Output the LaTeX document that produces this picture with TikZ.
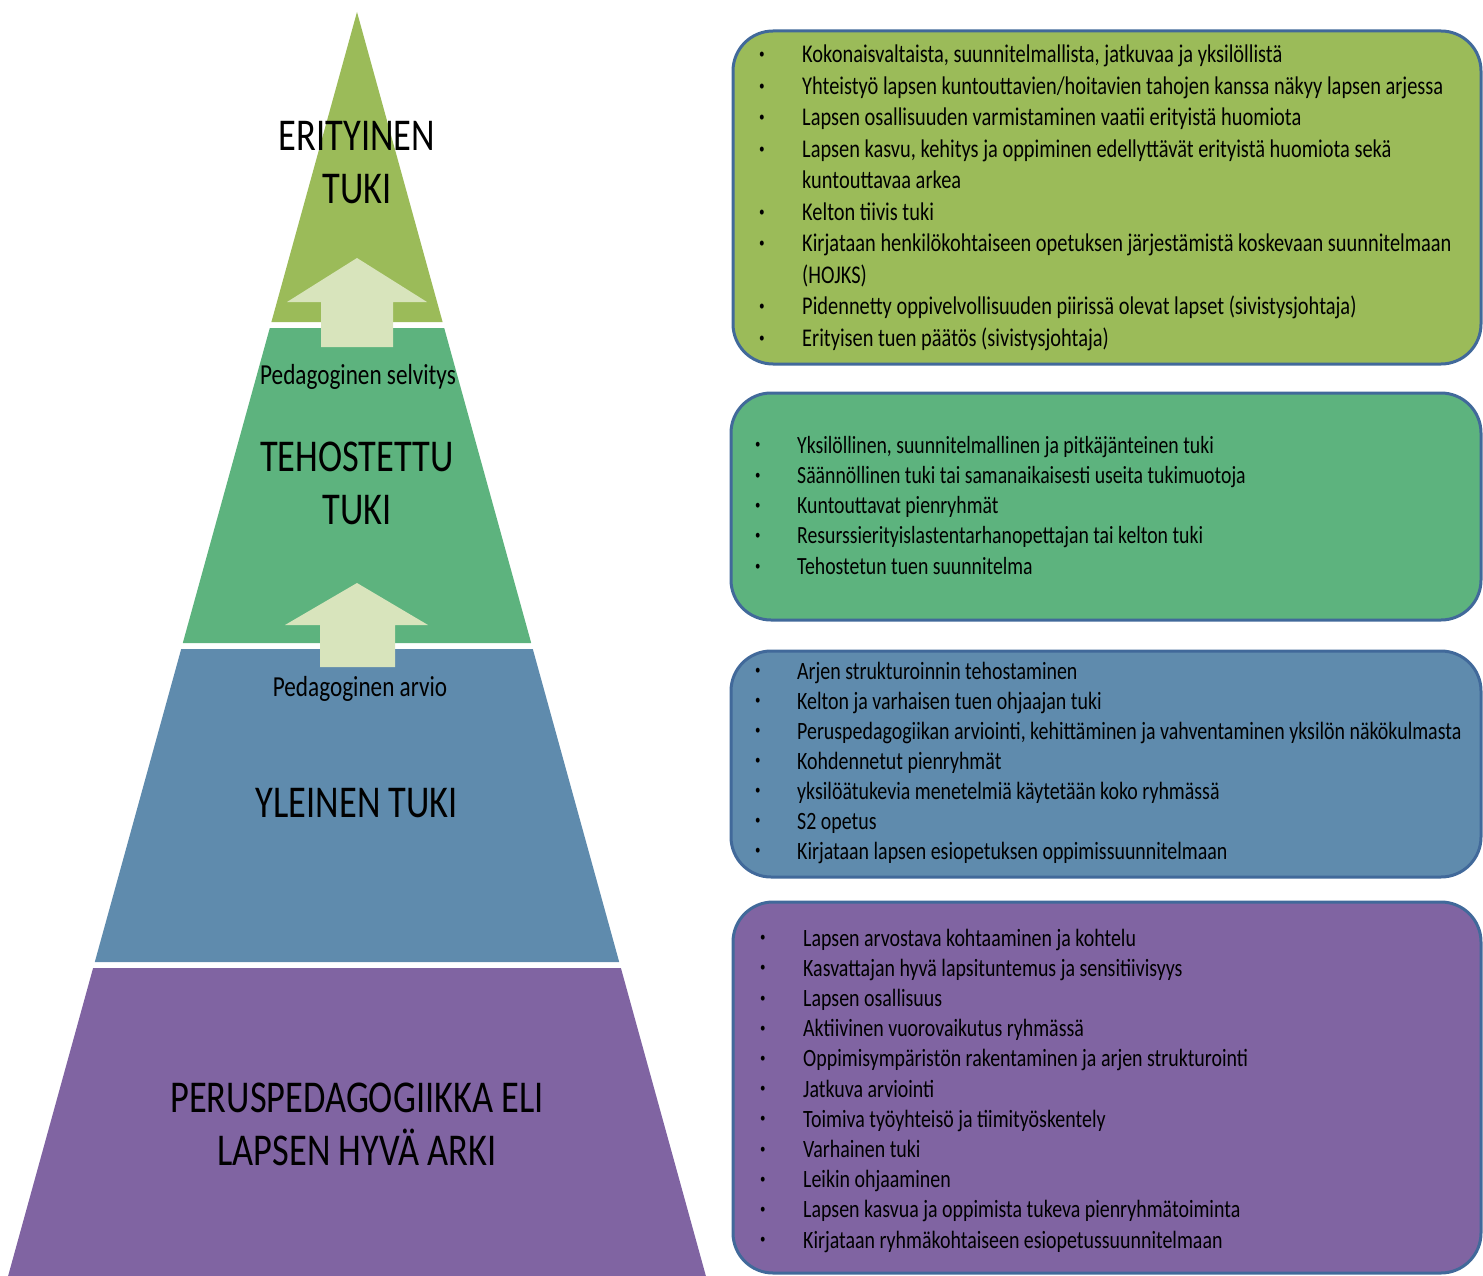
\documentclass[tikz,border=0pt]{standalone}
\usepackage{graphicx}
\usepackage{fontspec}
\setmainfont{Carlito}[FakeStretch=0.8]

\definecolor{erit}{HTML}{9BBB59}
\definecolor{tehost}{HTML}{5DB37E}
\definecolor{yleis}{HTML}{5F8BAD}
\definecolor{perusv}{HTML}{8064A2}
\definecolor{nuolivari}{HTML}{D8E4BC}
\definecolor{reuna}{HTML}{41699A}

\newcommand{\pallo}{\raisebox{0.17em}{\scalebox{0.55}{\textbullet}}}

\tikzset{
  taso/.style={font=\fontsize{45.5}{53}\selectfont, align=center},
  vaihe/.style={font=\fontsize{29}{34}\selectfont},
  tukibox/.style={draw=reuna, line width=3pt, rounded corners=40pt},
  lista/.style={anchor=base west, inner sep=0pt},
}

\begin{document}
\begin{tikzpicture}[x=1pt,y=-1pt]
    \useasboundingbox (0,0) rectangle (1483,1276);
    % pyramidin tasot
    \fill[erit] (357,12) -- (442.6,322) -- (271.4,322) -- cycle;
    \fill[tehost] (269.8,328) -- (444.2,328) -- (531.2,643) -- (182.8,643) -- cycle;
    \fill[yleis] (181.2,649) -- (532.8,649) -- (619.2,962) -- (94.8,962) -- cycle;
    \fill[perusv] (93.1,968) -- (620.9,968) -- (705.9,1276) -- (8.1,1276) -- cycle;
    % nuolet
    \fill[nuolivari] (357,258) -- (427,302) -- (393,302) -- (393,347) -- (321,347) -- (321,302) -- (287,302) -- cycle;
    \fill[nuolivari] (357,583) -- (428,625) -- (395,625) -- (395,667) -- (320,667) -- (320,625) -- (285,625) -- cycle;
    \node[taso] (erityinen) at (357,163) {ERITYINEN\\TUKI};
    \node[taso] (tehostettu) at (357,483) {TEHOSTETTU\\TUKI};
    \node[taso] (yleinen) at (357,803) {YLEINEN TUKI};
    \node[taso] (perus) at (357,1124) {PERUSPEDAGOGIIKKA ELI\\LAPSEN HYVÄ ARKI};
    \node[vaihe] (selvitys) at (358,377) {Pedagoginen selvitys};
    \node[vaihe] (arvio) at (360,689) {Pedagoginen arvio};
    % laatikot
    \draw[tukibox, fill=erit] (733,31) rectangle (1481,364);
    \draw[tukibox, fill=tehost] (731,393) rectangle (1481,620);
    \draw[tukibox, fill=yleis] (731,651) rectangle (1481,877);
    \draw[tukibox, fill=perusv] (733,902) rectangle (1481,1273);
    \node[lista, font=\fontsize{25.5}{31.5}\selectfont] (erityinenlista) at (759,63) {%
      \begin{tabular}[t]{@{}p{43pt}@{}l@{}}
        \pallo & Kokonaisvaltaista, suunnitelmallista, jatkuvaa ja yksilöllistä\\
        \pallo & Yhteistyö lapsen kuntouttavien/hoitavien tahojen kanssa näkyy lapsen arjessa\\
        \pallo & Lapsen osallisuuden varmistaminen vaatii erityistä huomiota\\
        \pallo & Lapsen kasvu, kehitys ja oppiminen edellyttävät erityistä huomiota sekä\\
               & kuntouttavaa arkea\\
        \pallo & Kelton tiivis tuki\\
        \pallo & Kirjataan henkilökohtaiseen opetuksen järjestämistä koskevaan suunnitelmaan\\
               & (HOJKS)\\
        \pallo & Pidennetty oppivelvollisuuden piirissä olevat lapset (sivistysjohtaja)\\
        \pallo & Erityisen tuen päätös (sivistysjohtaja)
      \end{tabular}};
    \node[lista, font=\fontsize{24.7}{30.3}\selectfont] (tehostettulista) at (755,453) {%
      \begin{tabular}[t]{@{}p{42pt}@{}l@{}}
        \pallo & Yksilöllinen, suunnitelmallinen ja pitkäjänteinen tuki\\
        \pallo & Säännöllinen tuki tai samanaikaisesti useita tukimuotoja\\
        \pallo & Kuntouttavat pienryhmät\\
        \pallo & Resurssierityislastentarhanopettajan tai kelton tuki\\
        \pallo & Tehostetun tuen suunnitelma
      \end{tabular}};
    \node[lista, font=\fontsize{24.9}{30}\selectfont] (yleinenlista) at (755,679) {%
      \begin{tabular}[t]{@{}p{42pt}@{}l@{}}
        \pallo & Arjen strukturoinnin tehostaminen\\
        \pallo & Kelton ja varhaisen tuen ohjaajan tuki\\
        \pallo & Peruspedagogiikan arviointi, kehittäminen ja vahventaminen yksilön näkökulmasta\\
        \pallo & Kohdennetut pienryhmät\\
        \pallo & yksilöätukevia menetelmiä käytetään koko ryhmässä\\
        \pallo & S2 opetus\\
        \pallo & Kirjataan lapsen esiopetuksen oppimissuunnitelmaan
      \end{tabular}};
    \node[lista, font=\fontsize{24.9}{30.2}\selectfont] (peruslista) at (760,946) {%
      \begin{tabular}[t]{@{}p{43pt}@{}l@{}}
        \pallo & Lapsen arvostava kohtaaminen ja kohtelu\\
        \pallo & Kasvattajan hyvä lapsituntemus ja sensitiivisyys\\
        \pallo & Lapsen osallisuus\\
        \pallo & Aktiivinen vuorovaikutus ryhmässä\\
        \pallo & Oppimisympäristön rakentaminen ja arjen strukturointi\\
        \pallo & Jatkuva arviointi\\
        \pallo & Toimiva työyhteisö ja tiimityöskentely\\
        \pallo & Varhainen tuki\\
        \pallo & Leikin ohjaaminen\\
        \pallo & Lapsen kasvua ja oppimista tukeva pienryhmätoiminta\\
        \pallo & Kirjataan ryhmäkohtaiseen esiopetussuunnitelmaan
      \end{tabular}};
\end{tikzpicture}
\end{document}
